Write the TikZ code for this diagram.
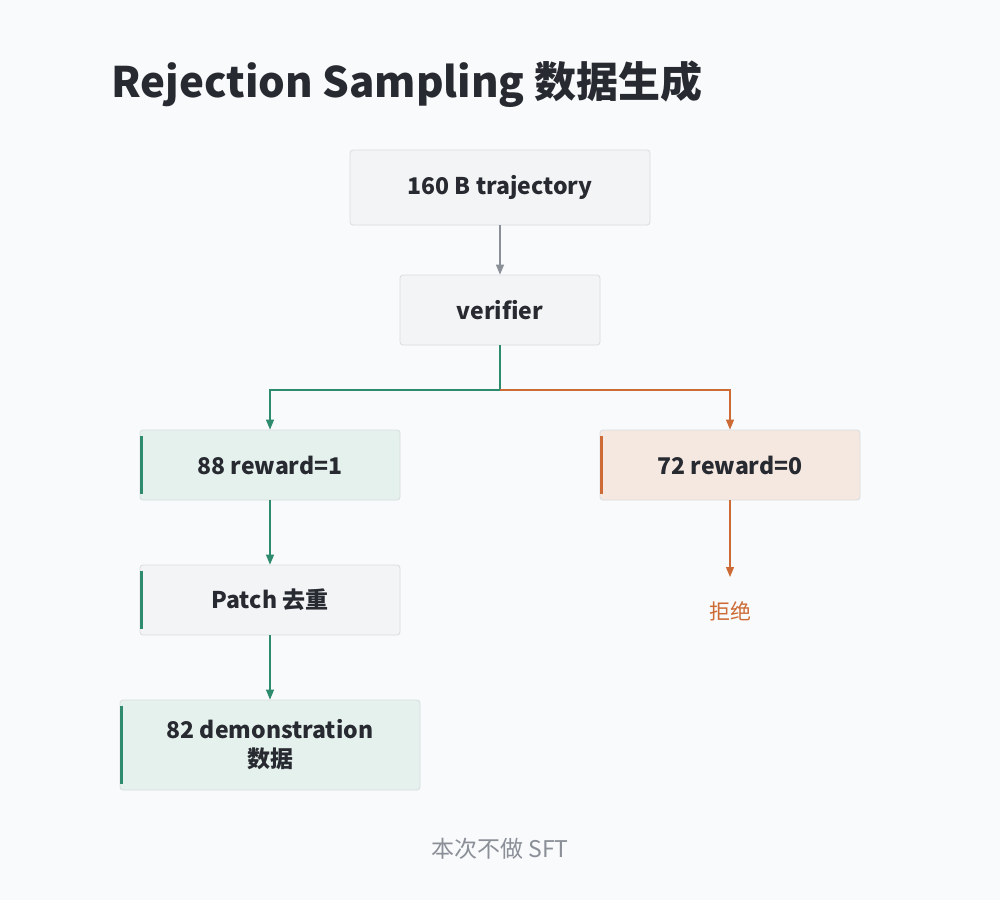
\documentclass[tikz,border=0pt]{standalone}
\usepackage{fontspec}
\setmainfont{Noto Sans CJK SC}
\usetikzlibrary{arrows.meta}
\definecolor{bg}{HTML}{F9FAFB}
\definecolor{gfill}{HTML}{F3F4F6}
\definecolor{bord}{HTML}{D9DCE0}
\definecolor{grn}{HTML}{2E8B6E}
\definecolor{grnf}{HTML}{E5F1EC}
\definecolor{org}{HTML}{CC6B35}
\definecolor{orgf}{HTML}{F5E8E0}
\definecolor{txt}{HTML}{272A30}
\definecolor{gry}{HTML}{8A8F98}
\begin{document}
\begin{tikzpicture}[x=1pt,y=-1pt,
  box/.style={draw=bord,line width=0.8pt,rounded corners=3pt,font=\fontsize{23}{29}\selectfont\bfseries,text=txt,align=center,inner sep=0pt},
  arr/.style={-{Triangle[length=10pt,width=8pt]},line width=1.2pt}]
\fill[bg] (0,0) rectangle (1000,900);
\useasboundingbox (0,0) rectangle (1000,900);
\node[anchor=west,font=\fontsize{42}{48}\selectfont\bfseries,text=txt] (title) at (108,84) {Rejection Sampling 数据生成};
\node[box,fill=gfill,minimum width=300pt,minimum height=75pt] (top) at (500,187.5) {160 B trajectory};
\node[box,fill=gfill,minimum width=200pt,minimum height=70pt] (ver) at (500,310) {verifier};
\node[box,fill=grnf,minimum width=260pt,minimum height=70pt] (r1) at (270,465) {88 reward=1};
\node[box,fill=orgf,minimum width=260pt,minimum height=70pt] (r0) at (730,465) {72 reward=0};
\node[box,fill=gfill,minimum width=260pt,minimum height=70pt] (pat) at (270,600) {Patch 去重};
\node[box,fill=grnf,minimum width=300pt,minimum height=90pt] (demo) at (270,745) {82 demonstration\\数据};
\foreach \n/\c in {r1/grn,r0/org,pat/grn,demo/grn}
  \draw[\c,line width=3pt] ([xshift=1.5pt,yshift=-6pt]\n.north west) -- ([xshift=1.5pt,yshift=6pt]\n.south west);
\node[font=\fontsize{21}{24}\selectfont,text=org] (rej) at (730,611) {拒绝};
\node[font=\fontsize{23}{26}\selectfont,text=gry] (note) at (500,849) {本次不做 SFT};
\coordinate (mid) at (500,390);
\coordinate (rejend) at (730,577);
\draw[arr,gry] (top) -- (ver);
\draw[arr,grn] (ver.south) -- (mid) -| (r1.north);
\draw[arr,org] (mid) -| (r0.north);
\draw[arr,grn] (r1) -- (pat);
\draw[arr,grn] (pat) -- (demo);
\draw[arr,org] (r0.south) -- (rejend);
\end{tikzpicture}
\end{document}
